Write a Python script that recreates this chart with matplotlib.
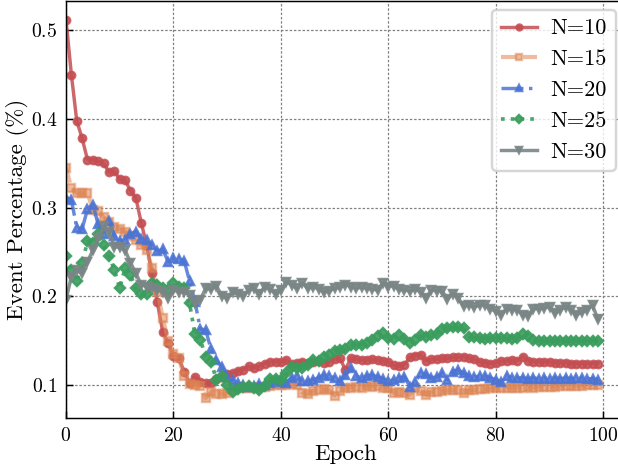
import numpy as np
import matplotlib
matplotlib.use("Agg")
import matplotlib.pyplot as plt

plt.rcParams.update({
    "font.family": "serif",
    "font.serif": ["cmr10"],
    "mathtext.fontset": "cm",
    "axes.formatter.use_mathtext": True,
    "font.size": 8,
    "axes.labelsize": 9.4,
    "legend.fontsize": 9.1,
    "axes.linewidth": 0.6,
    "xtick.direction": "in",
    "ytick.direction": "in",
    "xtick.major.size": 3,
    "ytick.major.size": 3,
    "xtick.major.width": 0.6,
    "ytick.major.width": 0.6,
})

epochs = np.arange(100)

n10 = [0.512, 0.450, 0.398, 0.378, 0.354, 0.354, 0.352, 0.350, 0.340, 0.341,
       0.332, 0.331, 0.319, 0.311, 0.283, 0.258, 0.226, 0.193, 0.160, 0.147,
       0.133, 0.130, 0.115, 0.102, 0.109, 0.103, 0.102, 0.102, 0.107, 0.109,
       0.112, 0.113, 0.116, 0.117, 0.121, 0.119, 0.121, 0.124, 0.126, 0.126,
       0.126, 0.128, 0.124, 0.125, 0.126, 0.125, 0.126, 0.127, 0.125, 0.126,
       0.129, 0.130, 0.117, 0.130, 0.129, 0.128, 0.128, 0.129, 0.128, 0.127,
       0.126, 0.122, 0.121, 0.123, 0.131, 0.133, 0.134, 0.127, 0.129, 0.129,
       0.130, 0.130, 0.131, 0.131, 0.132, 0.130, 0.129, 0.126, 0.125, 0.124,
       0.125, 0.127, 0.127, 0.128, 0.127, 0.132, 0.127, 0.126, 0.126, 0.126,
       0.126, 0.125, 0.125, 0.125, 0.124, 0.124, 0.124, 0.124, 0.124, 0.124]

n15 = [0.345, 0.322, 0.316, 0.316, 0.317, 0.297, 0.296, 0.289, 0.284, 0.278,
       0.276, 0.273, 0.268, 0.264, 0.258, 0.252, 0.232, 0.205, 0.176, 0.150,
       0.135, 0.130, 0.110, 0.101, 0.100, 0.099, 0.085, 0.092, 0.090, 0.090,
       0.091, 0.094, 0.097, 0.096, 0.097, 0.097, 0.098, 0.098, 0.099, 0.100,
       0.100, 0.100, 0.101, 0.100, 0.091, 0.090, 0.093, 0.094, 0.095, 0.094,
       0.088, 0.093, 0.096, 0.097, 0.098, 0.097, 0.099, 0.098, 0.099, 0.097,
       0.096, 0.091, 0.092, 0.091, 0.089, 0.097, 0.093, 0.089, 0.092, 0.092,
       0.093, 0.094, 0.094, 0.094, 0.091, 0.094, 0.094, 0.095, 0.095, 0.096,
       0.096, 0.096, 0.097, 0.097, 0.097, 0.097, 0.098, 0.097, 0.098, 0.098,
       0.098, 0.098, 0.099, 0.099, 0.099, 0.099, 0.099, 0.100, 0.100, 0.100]

n20 = [0.311, 0.309, 0.277, 0.276, 0.298, 0.303, 0.281, 0.270, 0.285, 0.268,
       0.262, 0.264, 0.270, 0.273, 0.265, 0.264, 0.258, 0.251, 0.253, 0.239,
       0.243, 0.242, 0.240, 0.217, 0.194, 0.163, 0.162, 0.140, 0.128, 0.120,
       0.109, 0.106, 0.102, 0.100, 0.098, 0.099, 0.101, 0.100, 0.102, 0.104,
       0.103, 0.102, 0.108, 0.110, 0.104, 0.104, 0.106, 0.108, 0.111, 0.110,
       0.108, 0.104, 0.111, 0.119, 0.110, 0.108, 0.110, 0.111, 0.109, 0.107,
       0.104, 0.106, 0.108, 0.109, 0.098, 0.103, 0.113, 0.112, 0.108, 0.109,
       0.113, 0.106, 0.115, 0.117, 0.113, 0.110, 0.109, 0.110, 0.110, 0.108,
       0.106, 0.103, 0.110, 0.108, 0.108, 0.108, 0.107, 0.108, 0.107, 0.108,
       0.107, 0.108, 0.107, 0.108, 0.107, 0.108, 0.108, 0.107, 0.107, 0.106]

n25 = [0.245, 0.230, 0.217, 0.237, 0.262, 0.260, 0.270, 0.258, 0.245, 0.230,
       0.209, 0.232, 0.224, 0.209, 0.202, 0.202, 0.215, 0.213, 0.209, 0.207,
       0.215, 0.211, 0.209, 0.192, 0.157, 0.151, 0.132, 0.126, 0.106, 0.110,
       0.100, 0.092, 0.095, 0.098, 0.099, 0.097, 0.094, 0.099, 0.107, 0.107,
       0.106, 0.113, 0.120, 0.119, 0.119, 0.122, 0.128, 0.127, 0.132, 0.134,
       0.138, 0.139, 0.140, 0.145, 0.145, 0.145, 0.147, 0.151, 0.155, 0.159,
       0.153, 0.152, 0.156, 0.152, 0.147, 0.151, 0.156, 0.154, 0.156, 0.158,
       0.163, 0.164, 0.165, 0.165, 0.164, 0.154, 0.154, 0.153, 0.152, 0.153,
       0.153, 0.153, 0.153, 0.152, 0.153, 0.158, 0.155, 0.151, 0.150, 0.149,
       0.149, 0.149, 0.149, 0.149, 0.150, 0.150, 0.150, 0.150, 0.150, 0.150]

n30 = [0.196, 0.222, 0.230, 0.226, 0.239, 0.252, 0.266, 0.279, 0.273, 0.256,
       0.255, 0.252, 0.238, 0.226, 0.213, 0.211, 0.209, 0.207, 0.205, 0.198,
       0.207, 0.205, 0.205, 0.201, 0.192, 0.196, 0.209, 0.208, 0.212, 0.200,
       0.198, 0.205, 0.203, 0.200, 0.207, 0.209, 0.203, 0.211, 0.208, 0.203,
       0.207, 0.216, 0.213, 0.209, 0.215, 0.209, 0.211, 0.208, 0.205, 0.206,
       0.209, 0.210, 0.213, 0.211, 0.209, 0.210, 0.209, 0.208, 0.207, 0.215,
       0.211, 0.212, 0.208, 0.207, 0.206, 0.208, 0.205, 0.198, 0.207, 0.206,
       0.206, 0.197, 0.203, 0.198, 0.189, 0.190, 0.188, 0.190, 0.190, 0.186,
       0.183, 0.179, 0.186, 0.185, 0.185, 0.179, 0.178, 0.186, 0.186, 0.187,
       0.188, 0.181, 0.185, 0.188, 0.185, 0.179, 0.182, 0.185, 0.190, 0.174]

series = [
    ("N=10", n10, "#C44E52", "-", "o", 0.85, 1.4),
    ("N=15", n15, "#DD8452", "--", "s", 0.55, 1.7),
    ("N=20", n20, "#4C74D4", "-.", "^", 0.85, 1.4),
    ("N=25", n25, "#3A9D5D", ":", "D", 0.9, 1.5),
    ("N=30", n30, "#7A8585", "-", "v", 0.9, 1.4),
]

dpi = 176.57
fig = plt.figure(figsize=(618 / dpi, 465 / dpi), dpi=dpi)
ax = fig.add_axes([66 / 618, 47 / 465, 558.5 / 618, 417 / 465])

for label, vals, color, ls, marker, alpha, lw in series:
    ax.plot(epochs, vals, color=color, linestyle=ls, marker=marker,
            markersize=3, linewidth=lw, alpha=alpha, label=label)

ax.set_xlim(0, 103.95)
ax.set_ylim(0.0627, 0.533)
ax.set_xticks([0, 20, 40, 60, 80, 100])
ax.set_yticks([0.1, 0.2, 0.3, 0.4, 0.5])
ax.grid(True, color="0.5", linestyle=(0, (2, 1.5)), linewidth=0.5)
ax.set_xlabel("Epoch")
ax.xaxis.set_label_coords(0.5, -0.064)
ax.set_ylabel("Event Percentage (%)")
ax.yaxis.set_label_coords(-0.066, 0.5)
ax.legend(loc="upper right", handlelength=1.6, handletextpad=0.6,
          markerscale=0.8, borderaxespad=0.4)

fig.savefig("out.png", dpi=dpi)
